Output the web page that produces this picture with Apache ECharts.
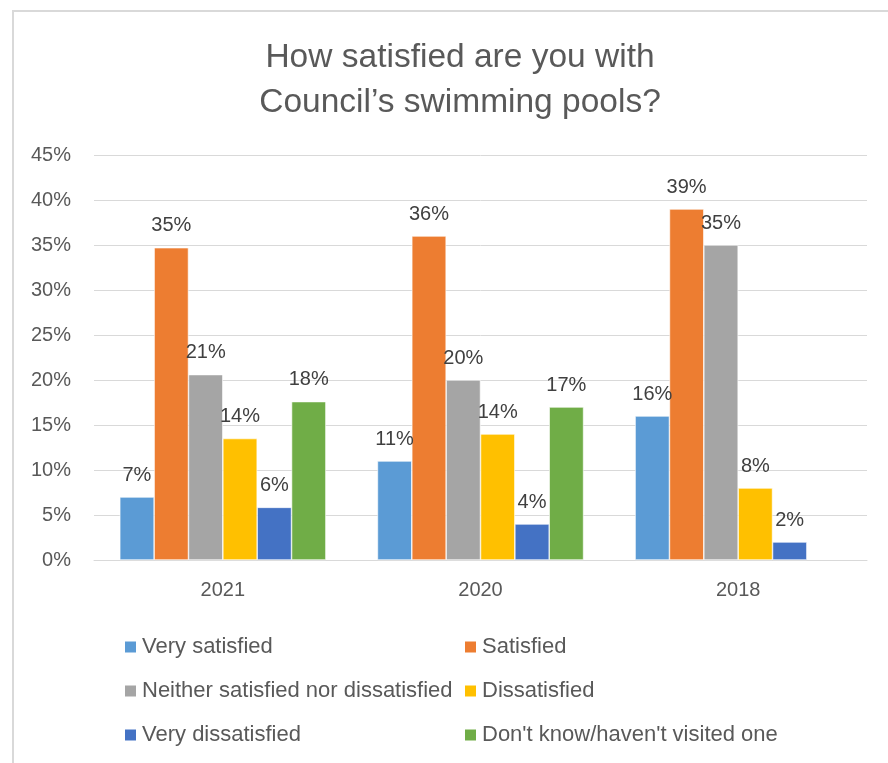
<!DOCTYPE html>
<html>
<head>
<meta charset="utf-8">
<title>Council swimming pools satisfaction</title>
<script src="https://cdn.jsdelivr.net/npm/echarts@6/dist/echarts.min.js"></script>
<style>
  html, body { margin: 0; padding: 0; background: #ffffff; }
  #chart { width: 888px; height: 763px; }
</style>
</head>
<body>
<div id="chart"></div>
<script>
// Survey years shown along the x axis
const years = ['2021', '2020', '2018'];

// Response shares (percent) per answer, one value per year
const verySatisfied = [7.0, 11.0, 16.0];
const satisfied = [34.7, 36.0, 39.0];
const neither = [20.6, 20.0, 35.0];
const dissatisfied = [13.5, 14.0, 8.0];
const veryDissatisfied = [5.85, 4.0, 2.0];
const dontKnow = [17.6, 17.0, null];

// Y axis range and step (percent)
const yMin = 0;
const yMax = 45;
const yStep = 5;

const seriesNames = [
  'Very satisfied',
  'Satisfied',
  'Neither satisfied nor dissatisfied',
  'Dissatisfied',
  'Very dissatisfied',
  "Don't know/haven't visited one"
];
const seriesData = [verySatisfied, satisfied, neither, dissatisfied, veryDissatisfied, dontKnow];
const colors = ['#5b9bd5', '#ed7d31', '#a5a5a5', '#ffc000', '#4472c4', '#70ad47'];

const FONT = "'Liberation Sans', 'DejaVu Sans', sans-serif";

const chart = echarts.init(document.getElementById('chart'), null, { renderer: 'canvas' });

const series = seriesNames.map((name, i) => ({
  name: name,
  type: 'bar',
  data: seriesData[i],
  barGap: '0%',
  barCategoryGap: '20%',
  itemStyle: { color: colors[i], borderColor: '#ffffff', borderWidth: 0.6 },
  label: {
    show: true,
    position: 'top',
    distance: 12,
    color: '#404040',
    fontFamily: FONT,
    fontSize: 20,
    formatter: p => Math.round(p.value) + '%'
  }
}));

const legendText = { color: '#595959', fontFamily: FONT, fontSize: 22 };

const legendBase = {
  orient: 'vertical',
  top: 631,
  itemWidth: 13,
  itemHeight: 13,
  itemGap: 22,
  icon: 'rect',
  textStyle: legendText,
  selectedMode: false
};

chart.setOption({
  animation: false,
  color: colors,
  graphic: [{
    type: 'rect',
    shape: { x: 13, y: 11, width: 900, height: 800 },
    style: { fill: 'none', stroke: '#d9d9d9', lineWidth: 2 },
    silent: true
  }],
  title: {
    text: 'How satisfied are you with\nCouncil\u2019s swimming pools?',
    left: 455,
    textAlign: 'center',
    top: 30,
    textStyle: {
      color: '#595959',
      fontFamily: FONT,
      fontWeight: 'normal',
      fontSize: 33.5,
      lineHeight: 45
    }
  },
  legend: [
    Object.assign({}, legendBase, {
      data: [seriesNames[0], seriesNames[2], seriesNames[4]],
      left: 118
    }),
    Object.assign({}, legendBase, {
      data: [seriesNames[1], seriesNames[3], seriesNames[5]],
      left: 458
    })
  ],
  grid: { left: 94, right: 21, top: 155, bottom: 203, containLabel: false },
  xAxis: {
    type: 'category',
    data: years,
    axisLine: { lineStyle: { color: '#d9d9d9', width: 1 } },
    axisTick: { show: false },
    axisLabel: { color: '#595959', fontFamily: FONT, fontSize: 20, margin: 20 }
  },
  yAxis: {
    type: 'value',
    min: yMin,
    max: yMax,
    interval: yStep,
    axisLine: { show: false },
    axisTick: { show: false },
    splitLine: { lineStyle: { color: '#d9d9d9', width: 1 } },
    axisLabel: {
      color: '#595959',
      fontFamily: FONT,
      fontSize: 20,
      margin: 23,
      formatter: '{value}%'
    }
  },
  series: series
});
</script>
</body>
</html>
